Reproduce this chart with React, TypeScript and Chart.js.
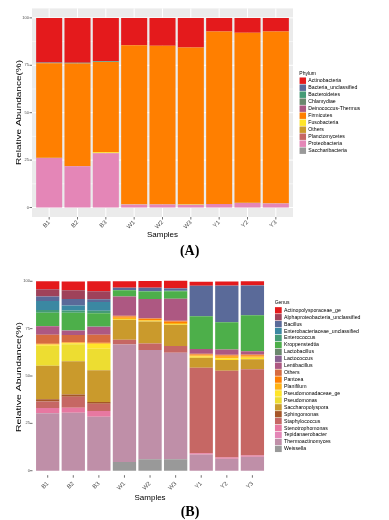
import React, { useEffect, useRef } from "react";
import { Chart, registerables } from "chart.js";

Chart.register(...registerables);

const FONT = "'Liberation Sans', Arial, Helvetica, sans-serif";

const samples = ["B1", "B2", "B3", "W1", "W2", "W3", "Y1", "Y2", "Y3"];
const yTicks = [0, 25, 50, 75, 100];
const yMinorTicks = [12.5, 37.5, 62.5, 87.5];

// ---------- Panel A : Phylum ----------
const phyla = [
  "Actinobacteria",
  "Bacteria_unclassified",
  "Bacteroidetes",
  "Chlamydiae",
  "Deinococcus-Thermus",
  "Firmicutes",
  "Fusobacteria",
  "Others",
  "Planctomycetes",
  "Proteobacteria",
  "Saccharibacteria",
];
const phylumColors = [
  "#E41A1C", "#5A6A99", "#449B76", "#6B886E", "#AD5882", "#FF7F00",
  "#FFE529", "#CA9A2C", "#C66764", "#E486B7", "#999999",
];
const actinobacteria = [23.5, 23.6, 22.8, 14.4, 14.7, 15.6, 7.2, 7.9, 7.2];
const bacteriaUnclassified = [0.1, 0.1, 0.0, 0, 0, 0, 0, 0, 0];
const bacteroidetes = [0.1, 0.1, 0.2, 0, 0, 0, 0, 0, 0];
const chlamydiae = [0.2, 0.2, 0.2, 0, 0, 0, 0, 0, 0];
const deinococcusThermus = [0, 0, 0, 0, 0, 0, 0, 0, 0];
const firmicutes = [49.8, 54.2, 47.7, 83.8, 83.6, 82.6, 90.9, 89.6, 90.6];
const fusobacteria = [0, 0, 0.4, 0.1, 0, 0.2, 0, 0, 0];
const othersPhylum = [0.2, 0.1, 0.1, 0.1, 0.1, 0.1, 0.1, 0.1, 0.1];
const planctomycetes = [0, 0, 0, 0, 0, 0, 0, 0, 0];
const proteobacteria = [26.1, 21.7, 28.6, 1.6, 1.6, 1.5, 1.8, 2.4, 2.1];
const saccharibacteria = [0, 0, 0, 0, 0, 0, 0, 0, 0];
const phylumValues = [
  actinobacteria, bacteriaUnclassified, bacteroidetes, chlamydiae,
  deinococcusThermus, firmicutes, fusobacteria, othersPhylum,
  planctomycetes, proteobacteria, saccharibacteria,
];

// ---------- Panel B : Genus ----------
const genera = [
  "Actinopolysporaceae_ge",
  "Alphaproteobacteria_unclassified",
  "Bacillus",
  "Enterobacteriaceae_unclassified",
  "Enterococcus",
  "Kroppenstedtia",
  "Lactobacillus",
  "Lactococcus",
  "Lentibacillus",
  "Others",
  "Pantoea",
  "Planifilum",
  "Pseudomonadaceae_ge",
  "Pseudomonas",
  "Saccharopolyspora",
  "Sphingomonas",
  "Staphylococcus",
  "Stenotrophomonas",
  "Tepidanaerobacter",
  "Thermoactinomyces",
  "Weissella",
];
const genusColors = [
  "#E41A1C", "#9F425A", "#5A6A99", "#3B88A2", "#449B76", "#4DAF4A",
  "#6B886E", "#896191", "#AD5882", "#D66B41", "#FF7F00", "#FFB214",
  "#FFE529", "#EDDD31", "#CA9A2C", "#A65628", "#C66764", "#E778A1",
  "#E486B7", "#BF8FA8", "#999999",
];
const actinopolysporaceae = [4.2, 4.6, 5.3, 3.3, 3.5, 3.9, 2.1, 2.1, 2.1];
const alphaproteobacteria = [3.9, 4.6, 4.2, 0.2, 0.2, 0.2, 0.1, 0.1, 0.1];
const bacillus = [2.3, 3.5, 1.4, 1.0, 1.6, 1.2, 16.1, 19.3, 15.7];
const enterobacteriaceae = [4.75, 2.6, 4.6, 0, 0, 0, 0, 0, 0];
const enterococcus = [1.4, 1.2, 1.4, 0.2, 0.3, 0.3, 0, 0, 0];
const kroppenstedtia = [7.0, 9.3, 7.0, 3.3, 3.9, 3.9, 17.3, 14.4, 19.0];
const lactobacillus = [0.1, 0.1, 0.1, 0, 0, 0, 0, 0, 0];
const lactococcus = [0.1, 0.1, 0.1, 0, 0, 0, 0, 0, 0];
const lentibacillus = [4.5, 2.2, 4.1, 10.2, 10.2, 11.6, 2.5, 2.8, 1.8];
const othersGenus = [4.75, 3.9, 4.2, 0.35, 0.3, 0.4, 0.4, 0.4, 0.4];
const pantoea = [0.3, 0.3, 0.3, 0.7, 0.7, 0.8, 0.5, 0.7, 0.6];
const planifilum = [0.2, 0.2, 0.4, 0.6, 0.4, 0.6, 0.5, 0.9, 0.7];
const pseudomonadaceae = [0.5, 0.5, 2.5, 0.4, 0.3, 0.3, 0.7, 0.8, 0.8];
const pseudomonas = [10.6, 9.0, 11.4, 0, 0, 0, 0, 0, 0];
const saccharopolyspora = [17.7, 17.6, 16.7, 10.6, 11.6, 11.3, 5.3, 5.6, 5.3];
const sphingomonas = [1.1, 1.2, 0.9, 0, 0, 0, 0, 0, 0];
const staphylococcus = [3.5, 5.8, 3.9, 2.5, 3.5, 3.5, 45.1, 45.8, 45.4];
const stenotrophomonas = [2.8, 2.6, 3.0, 0, 0, 0, 0.7, 0.7, 0.7];
const tepidanaerobacter = [0, 0, 0, 0, 0, 0, 0, 0, 0];
const thermoactinomyces = [30.3, 30.6, 28.5, 62.0, 57.7, 56.3, 8.5, 6.3, 7.4];
const weissella = [0, 0, 0, 4.6, 6.0, 6.0, 0, 0, 0];
const genusValues = [
  actinopolysporaceae, alphaproteobacteria, bacillus, enterobacteriaceae,
  enterococcus, kroppenstedtia, lactobacillus, lactococcus, lentibacillus,
  othersGenus, pantoea, planifilum, pseudomonadaceae, pseudomonas,
  saccharopolyspora, sphingomonas, staphylococcus, stenotrophomonas,
  tepidanaerobacter, thermoactinomyces, weissella,
];

type PanelSpec = {
  names: string[];
  colors: string[];
  values: number[][];
  height: number;
  padRight: number;
  padTop: number;
  yAxisWidth: number;
  xAxisHeight: number;
  barPct: number;
  grayPanel: boolean;
  extX: number;
  xTickShift: number;
  xLabelPad: number;
  yLabelPad: number;
  yTitleX: number;
  yTitleY: number;
  yTitleStretch: number;
  samplesY: number;
  legendTitle: string;
  legendX: number;
  legendTitleY: number;
  legendFirstY: number;
  legendStep: number;
  keyW: number;
  keyH: number;
  labelOffset: number;
};

function line(ctx: CanvasRenderingContext2D, x1: number, y1: number, x2: number, y2: number) {
  ctx.beginPath();
  ctx.moveTo(x1, y1);
  ctx.lineTo(x2, y2);
  ctx.stroke();
}

function decorPlugin(spec: PanelSpec) {
  return {
    id: "decor",
    beforeDraw(chart: any) {
      const { ctx, chartArea: ca, scales } = chart;
      const x = scales.x;
      const y = scales.y;
      const L = ca.left - spec.extX;
      const R = ca.right + spec.extX;
      ctx.save();
      if (spec.grayPanel) {
        ctx.fillStyle = "#EBEBEB";
        ctx.fillRect(L, ca.top, R - L, ca.bottom - ca.top);
        ctx.strokeStyle = "#FFFFFF";
        ctx.lineWidth = 0.5;
        for (const v of yMinorTicks) {
          const py = y.getPixelForValue(v);
          line(ctx, L, py, R, py);
        }
        ctx.lineWidth = 1;
        for (const v of yTicks) {
          const py = y.getPixelForValue(v);
          line(ctx, L, py, R, py);
        }
        samples.forEach((_, i) => {
          const px = x.getPixelForValue(i);
          line(ctx, px, ca.top, px, ca.bottom);
        });
      }
      ctx.strokeStyle = "#333333";
      ctx.lineWidth = 0.7;
      for (const v of yTicks) {
        const py = y.getPixelForValue(v);
        line(ctx, L - 2.5, py, L, py);
      }
      const ty = ca.bottom + spec.xTickShift;
      samples.forEach((_, i) => {
        const px = x.getPixelForValue(i);
        line(ctx, px, ty, px, ty + 2.5);
      });
      ctx.restore();
    },
    afterDraw(chart: any) {
      const { ctx, chartArea: ca } = chart;
      ctx.save();
      // y-axis title
      ctx.translate(spec.yTitleX, spec.yTitleY);
      ctx.rotate(-Math.PI / 2);
      ctx.scale(spec.yTitleStretch, 1);
      ctx.font = `8px ${FONT}`;
      ctx.fillStyle = "#000000";
      ctx.textAlign = "center";
      ctx.textBaseline = "middle";
      ctx.fillText("Relative Abundance(%)", 0, 0);
      ctx.restore();

      ctx.save();
      ctx.font = `8px ${FONT}`;
      ctx.fillStyle = "#000000";
      ctx.textAlign = "center";
      ctx.textBaseline = "middle";
      ctx.fillText("Samples", (ca.left + ca.right) / 2, spec.samplesY);

      // legend
      ctx.textAlign = "left";
      ctx.font = `5px ${FONT}`;
      ctx.fillText(spec.legendTitle, spec.legendX, spec.legendTitleY);
      ctx.font = `5.2px ${FONT}`;
      spec.names.forEach((n, i) => {
        const cy = spec.legendFirstY + i * spec.legendStep;
        ctx.fillStyle = "#F2F2F2";
        ctx.fillRect(spec.legendX, cy - spec.legendStep / 2 + 0.3, spec.keyW, spec.legendStep - 0.6);
        ctx.fillStyle = spec.colors[i];
        ctx.fillRect(spec.legendX + 0.3, cy - spec.keyH / 2, spec.keyW - 0.6, spec.keyH);
        ctx.fillStyle = "#000000";
        ctx.fillText(n, spec.legendX + spec.labelOffset, cy);
      });
      ctx.restore();
    },
  };
}

function StackedPanel({ spec, top }: { spec: PanelSpec; top: number }) {
  const ref = useRef<HTMLCanvasElement>(null);
  useEffect(() => {
    if (!ref.current) return;
    const datasets = spec.names
      .map((n, i) => ({
        label: n,
        data: spec.values[i],
        backgroundColor: spec.colors[i],
        borderWidth: 0,
        barPercentage: spec.barPct,
        categoryPercentage: 1,
      }))
      .reverse();
    const chart = new Chart(ref.current, {
      type: "bar",
      data: { labels: samples, datasets },
      options: {
        animation: false,
        responsive: false,
        maintainAspectRatio: false,
        layout: { padding: { left: 0, right: spec.padRight, top: spec.padTop, bottom: 0 } },
        plugins: {
          legend: { display: false },
          tooltip: { enabled: false },
        },
        scales: {
          x: {
            stacked: true,
            grid: { display: false, drawTicks: false },
            border: { display: false },
            ticks: {
              autoSkip: false,
              minRotation: 45,
              maxRotation: 45,
              padding: spec.xLabelPad,
              color: "#4D4D4D",
              font: { size: 6, family: FONT },
            },
            afterFit: (s: any) => {
              s.height = spec.xAxisHeight;
            },
          },
          y: {
            stacked: true,
            min: -5,
            max: 105,
            grid: { display: false, drawTicks: false },
            border: { display: false },
            ticks: {
              padding: spec.yLabelPad,
              color: "#4D4D4D",
              font: { size: 4, family: FONT },
            },
            afterBuildTicks: (s: any) => {
              s.ticks = yTicks.map((v) => ({ value: v }));
            },
            afterFit: (s: any) => {
              s.width = spec.yAxisWidth;
            },
          },
        },
      },
      plugins: [decorPlugin(spec)],
    });
    return () => chart.destroy();
  }, []);
  return (
    <canvas
      ref={ref}
      width={389}
      height={spec.height}
      style={{ position: "absolute", left: 0, top, display: "block", width: 389, height: spec.height }}
    />
  );
}

const specA: PanelSpec = {
  names: phyla,
  colors: phylumColors,
  values: phylumValues,
  height: 245,
  padRight: 99,
  padTop: 8,
  yAxisWidth: 35,
  xAxisHeight: 28,
  barPct: 0.92,
  grayPanel: true,
  extX: 3,
  xTickShift: 0,
  xLabelPad: 2,
  yLabelPad: 6,
  yTitleX: 18.5,
  yTitleY: 112.5,
  yTitleStretch: 1.25,
  samplesY: 235,
  legendTitle: "Phylum",
  legendX: 299.3,
  legendTitleY: 73.3,
  legendFirstY: 80.7,
  legendStep: 7.0,
  keyW: 7,
  keyH: 6.4,
  labelOffset: 9,
};

const specB: PanelSpec = {
  names: genera,
  colors: genusColors,
  values: genusValues,
  height: 242,
  padRight: 123.8,
  padTop: 9.8,
  yAxisWidth: 34.9,
  xAxisHeight: 23.8,
  barPct: 0.91,
  grayPanel: false,
  extX: 2.4,
  xTickShift: -5,
  xLabelPad: 0,
  yLabelPad: 5,
  yTitleX: 18.5,
  yTitleY: 115,
  yTitleStretch: 1.31,
  samplesY: 236,
  legendTitle: "Genus",
  legendX: 274.7,
  legendTitleY: 40.3,
  legendFirstY: 48.3,
  legendStep: 6.93,
  keyW: 7.3,
  keyH: 6.3,
  labelOffset: 9.3,
};

export default function App() {
  const labelStyle: React.CSSProperties = {
    position: "absolute",
    transform: "translate(-50%, -50%)",
    fontFamily: "'Liberation Serif', 'Times New Roman', serif",
    fontWeight: "bold",
    fontSize: 14,
    lineHeight: 1,
    color: "#000",
    whiteSpace: "nowrap",
  };
  return (
    <div style={{ position: "absolute", left: 0, top: 0, width: 389, height: 520, background: "#FFFFFF", overflow: "hidden" }}>
      <StackedPanel spec={specA} top={0} />
      <StackedPanel spec={specB} top={262} />
      <div style={{ ...labelStyle, left: 189.6, top: 250.7 }}>(A)</div>
      <div style={{ ...labelStyle, left: 190, top: 512 }}>(B)</div>
    </div>
  );
}
